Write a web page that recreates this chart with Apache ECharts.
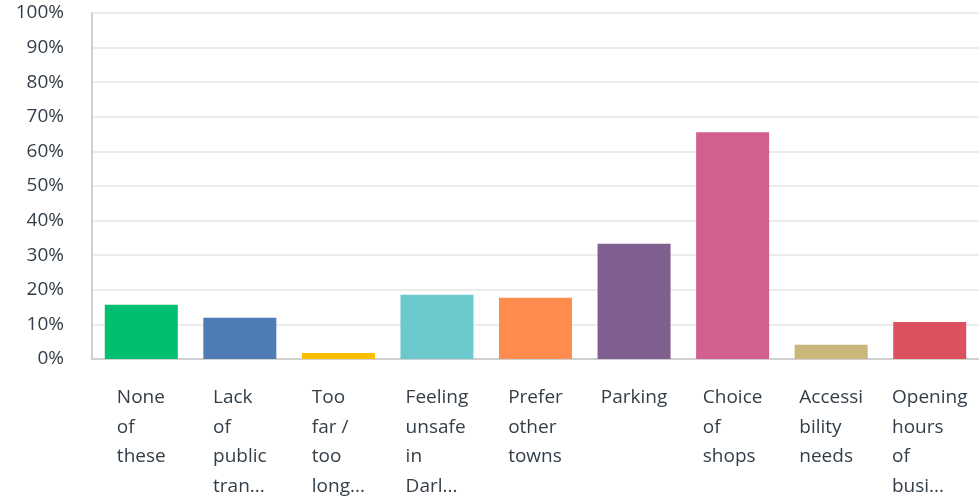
<!DOCTYPE html>
<html>
<head>
<meta charset="utf-8">
<script src="https://cdn.jsdelivr.net/npm/echarts@6/dist/echarts.min.js"></script>
<style>
  html, body { margin: 0; padding: 0; background: #fff; }
  #chart { width: 979px; height: 496px; }
</style>
</head>
<body>
<div id="chart"></div>
<script>
// category labels, already wrapped/truncated as shown
const categories = [
  ["None", "of", "these"],
  ["Lack", "of", "public", "tran..."],
  ["Too", "far /", "too", "long..."],
  ["Feeling", "unsafe", "in", "Darl..."],
  ["Prefer", "other", "towns"],
  ["Parking"],
  ["Choice", "of", "shops"],
  ["Accessi", "bility", "needs"],
  ["Opening", "hours", "of", "busi..."]
];
const values = [15.7, 11.9, 1.7, 18.6, 17.7, 33.3, 65.5, 4.1, 10.7];
const colors = ["#00bf6f", "#507cb6", "#f9be00", "#6bc8cd", "#ff8b4f",
                "#7f5f90", "#d25f90", "#c9b77b", "#dc505f"];

const chart = echarts.init(document.getElementById("chart"), null, { renderer: "canvas" });
const font = "'Open Sans', sans-serif";

chart.setOption({
  animation: false,
  grid: { left: 92, right: 0, top: 13, bottom: 137 },
  xAxis: {
    type: "category",
    data: categories.map((c) => c.join("\n")),
    axisLine: { lineStyle: { color: "#d0d0d0", width: 2 } },
    axisTick: { show: false },
    axisLabel: {
      interval: 0,
      margin: 24,
      formatter: (v) => "{a|" + v.split("\n").join("}\n{a|") + "}",
      rich: {
        a: { fontFamily: font, fontSize: 19, lineHeight: 29.5, color: "#333e48", align: "left" }
      }
    }
  },
  yAxis: {
    type: "value",
    min: 0,
    max: 100,
    interval: 10,
    axisLine: { show: true, lineStyle: { color: "#d0d0d0", width: 2 } },
    splitLine: { lineStyle: { color: "#ececec", width: 2 } },
    axisLabel: {
      margin: 28,
      formatter: "{value}%",
      fontFamily: font,
      fontSize: 19,
      color: "#333e48"
    }
  },
  series: [{
    type: "bar",
    barWidth: 73,
    data: values.map((v, i) => ({ value: v, itemStyle: { color: colors[i] } }))
  }]
});
</script>
</body>
</html>
